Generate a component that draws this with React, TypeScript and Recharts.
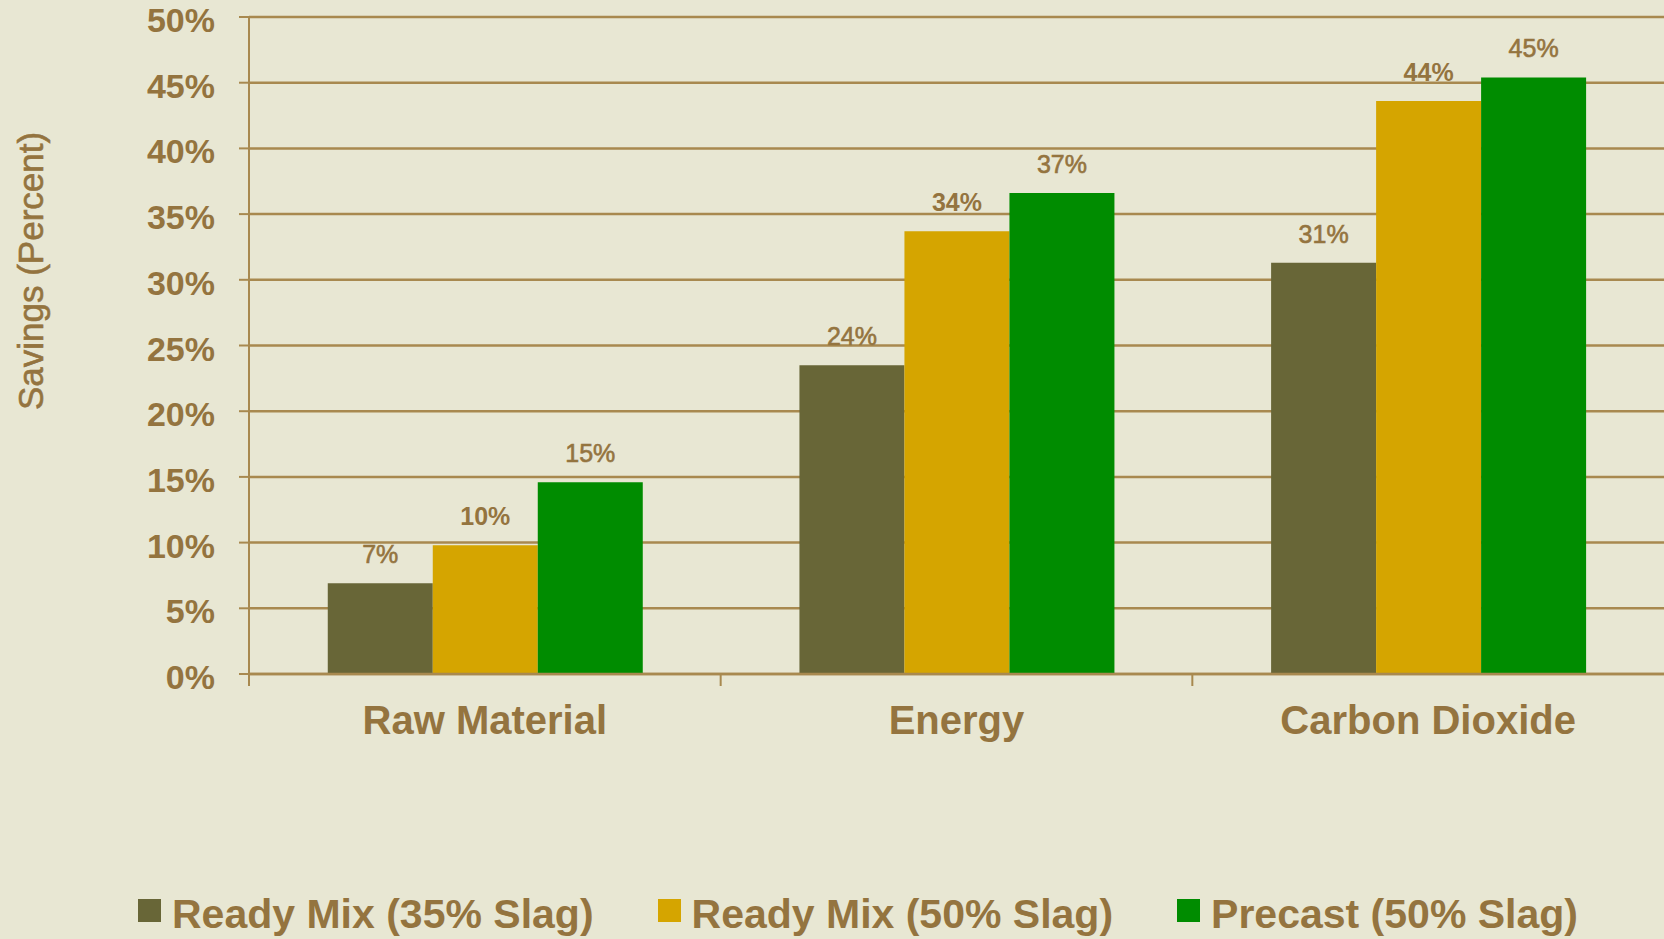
import React from 'react';
import { BarChart, Bar, XAxis, YAxis, CartesianGrid, Legend, LabelList } from 'recharts';

const categories = ['Raw Material', 'Energy', 'Carbon Dioxide'];
const readyMix35 = [6.9, 23.5, 31.3];
const readyMix50 = [9.8, 33.7, 43.6];
const precast50 = [14.6, 36.6, 45.4];
const yTicks = [0, 5, 10, 15, 20, 25, 30, 35, 40, 45, 50];

const series = [
    { key: 'rm35', name: 'Ready Mix (35% Slag)', color: '#686637', bold: false },
    { key: 'rm50', name: 'Ready Mix (50% Slag)', color: '#D5A500', bold: true },
    { key: 'pc50', name: 'Precast (50% Slag)', color: '#008C00', bold: false },
];

const data = categories.map((name, i) => ({
    name,
    rm35: readyMix35[i],
    rm50: readyMix50[i],
    pc50: precast50[i],
}));

const BG = '#E8E7D3';
const LINE = '#A8894F';
const TEXT = '#94743F';
const FONT = '"Liberation Sans", Arial, sans-serif';

if (typeof document !== 'undefined') document.body.style.margin = '0';

function CategoryTick(props: any) {
    const { x, y, payload } = props;
    const half = payload.offset || 0;
    return (
        <g>
            <line x1={x - half} x2={x - half} y1={y - 12} y2={y} stroke={LINE} strokeWidth={2} />
            <text x={x} y={y + 48} textAnchor="middle" fill={TEXT} fontSize={40} fontWeight="bold" fontFamily={FONT}>
                {payload.value}
            </text>
        </g>
    );
}

function LegendRow() {
    return (
        <div style={{ display: 'flex', height: 50, alignItems: 'center', paddingLeft: 138, fontFamily: FONT }}>
            {series.map((s) => (
                <div key={s.key} style={{ display: 'flex', alignItems: 'center', marginRight: 64 }}>
                    <span style={{ width: 23, height: 23, background: s.color, display: 'inline-block', marginRight: 11, marginTop: -8 }} />
                    <span style={{ color: TEXT, fontSize: 41, fontWeight: 'bold', lineHeight: '50px', whiteSpace: 'nowrap' }}>{s.name}</span>
                </div>
            ))}
        </div>
    );
}

export default function App() {
    return (
        <div style={{ width: 1664, height: 939, background: BG, overflow: 'hidden' }}>
            <BarChart
                width={1664}
                height={939}
                data={data}
                margin={{ top: 17, right: 0, bottom: 0, left: 0 }}
                barCategoryGap="16.7%"
                barGap={0}
            >
                <CartesianGrid vertical={false} stroke={LINE} strokeWidth={2.5} />
                <XAxis
                    dataKey="name"
                    height={215}
                    axisLine={{ stroke: LINE, strokeWidth: 2.5 }}
                    tickLine={false}
                    tickSize={12}
                    tickMargin={0}
                    tick={<CategoryTick />}
                    interval={0}
                />
                <YAxis
                    width={249}
                    domain={[0, 50]}
                    ticks={yTicks}
                    interval={0}
                    tickFormatter={(v: number) => `${v}%`}
                    axisLine={{ stroke: LINE, strokeWidth: 2 }}
                    tickLine={{ stroke: LINE, strokeWidth: 2 }}
                    tickSize={10}
                    tickMargin={24}
                    tick={{ fill: TEXT, fontSize: 34, fontWeight: 'bold', fontFamily: FONT, dy: 3 }}
                    label={{
                        content: () => (
                            <text
                                x={43}
                                y={271}
                                transform="rotate(-90, 43, 271)"
                                textAnchor="middle"
                                fill={TEXT}
                                stroke={TEXT}
                                strokeWidth={0.6}
                                fontSize={35}
                                fontFamily={FONT}
                            >
                                Savings (Percent)
                            </text>
                        ),
                    }}
                />
                <Legend verticalAlign="bottom" height={50} content={() => <LegendRow />} wrapperStyle={{ left: 0, bottom: 0, width: 1664 }} />
                {series.map((s) => (
                    <Bar key={s.key} dataKey={s.key} name={s.name} fill={s.color} isAnimationActive={false}>
                        <LabelList
                            dataKey={s.key}
                            position="top"
                            offset={20}
                            formatter={(v: any) => `${Math.round(Number(v))}%`}
                            fill={TEXT}
                            stroke={s.bold ? 'none' : TEXT}
                            strokeWidth={s.bold ? 0 : 0.6}
                            fontSize={25}
                            fontWeight={s.bold ? 'bold' : 'normal'}
                            fontFamily={FONT}
                        />
                    </Bar>
                ))}
            </BarChart>
        </div>
    );
}
